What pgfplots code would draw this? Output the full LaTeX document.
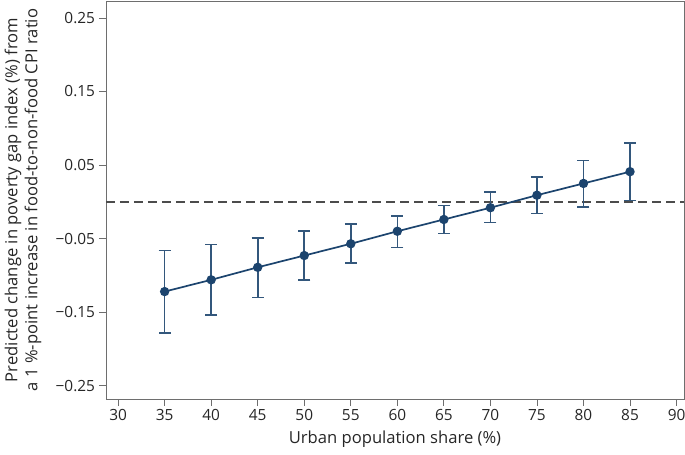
\documentclass[border=0pt]{standalone}
\usepackage{pgfplots}
\pgfplotsset{compat=1.18}
\usepackage{pgfplotstable}
\usepackage{fontspec}
\setmainfont{Open Sans}
\definecolor{navy}{RGB}{28,68,110}
\definecolor{axgray}{RGB}{110,110,110}
\pgfplotstableread{
x y ep em
35 -0.122 0.056 0.056
40 -0.106 0.048 0.048
45 -0.089 0.040 0.041
50 -0.073 0.033 0.033
55 -0.057 0.027 0.026
60 -0.040 0.021 0.022
65 -0.024 0.019 0.019
70 -0.008 0.021 0.020
75 0.009 0.025 0.025
80 0.025 0.031 0.032
85 0.041 0.039 0.039
}\datatable
\begin{document}
\begin{tikzpicture}
\begin{axis}[
  scale only axis,
  width=578bp, height=398bp,
  xmin=28.7, xmax=90.8,
  ymin=-0.268, ymax=0.273,
  xtick={30,35,...,90},
  ytick={-0.25,-0.15,-0.05,0.05,0.15,0.25},
  yticklabels={−0.25,−0.15,−0.05,0.05,0.15,0.25},
  /pgf/number format/assume math mode=true,
  tick align=outside,
  tick pos=left,
  major tick length=7bp,
  axis line style={axgray, line width=0.8bp},
  tick style={axgray, line width=0.8bp},
  every tick label/.append style={font=\fontsize{15.4bp}{17bp}\selectfont, text=black!85},
  xlabel={Urban population share (\%)},
  ylabel={Predicted change in poverty gap index (\%) from\\a 1 \%-point increase in food-to-non-food CPI ratio},
  every axis y label/.style={at={([xshift=-83bp]axis description cs:0,0.5)}, rotate=90, anchor=center, align=center, font=\fontsize{16.6bp}{20bp}\selectfont, text=black!85},
  every axis x label/.style={at={([yshift=-40bp]axis description cs:0.5,0)}, anchor=center, font=\fontsize{16.6bp}{18bp}\selectfont, text=black!85},
  yticklabel style={xshift=-0.5bp},
  clip=false,
]
\addplot[black!70, line width=1.4bp, dash pattern=on 9bp off 5bp] coordinates {(28.7,0) (90.8,0)};
\addplot[navy, line width=1.7bp, mark=*, mark size=3.8bp,
  error bars/.cd, y dir=both, y explicit,
  error bar style={navy!90, line width=1.6bp},
  error mark options={rotate=90, mark size=6bp, navy!90, line width=1.6bp}]
  table[x=x, y=y, y error plus=ep, y error minus=em] {\datatable};
\end{axis}
\pgfresetboundingbox
\path ([shift={(-106bp,-56bp)}]current axis.south west) rectangle ([shift={(1bp,1bp)}]current axis.north east);
\end{tikzpicture}
\end{document}
